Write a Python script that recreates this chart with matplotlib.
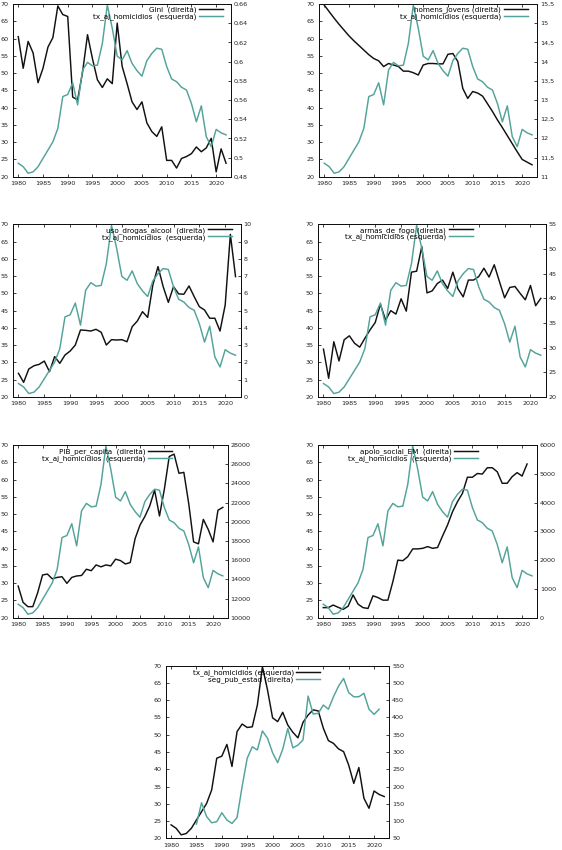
import numpy as np
import matplotlib
matplotlib.use("Agg")
import matplotlib.pyplot as plt
from matplotlib.ticker import FuncFormatter

nan = np.nan
years = list(range(1980, 2023))

tx_aj_homicidios = [23.9, 22.9, 21.0, 21.4, 22.9, 25.3, 27.7, 30.1, 34.0, 43.2,
                    43.8, 47.2, 40.8, 50.9, 53.1, 52.1, 52.3, 58.6, 69.7, 63.0,
                    54.9, 53.8, 56.5, 52.8, 50.7, 49.1, 53.6, 55.7, 57.2, 56.9,
                    51.9, 48.3, 47.5, 45.9, 45.1, 41.2, 35.9, 40.5, 31.6, 28.7,
                    33.7, 32.7, 32.1]

gini = [0.626, 0.593, 0.621, 0.609, 0.578, 0.593, 0.615, 0.625, 0.658, 0.649,
        0.647, 0.563, 0.560, 0.589, 0.628, 0.603, 0.581, 0.573, 0.582, 0.577,
        0.640, 0.595, 0.577, 0.558, 0.550, 0.558, 0.536, 0.527, 0.522, 0.532,
        0.497, 0.497, 0.489, 0.499, 0.501, 0.504, 0.511, 0.506, 0.510, 0.520,
        0.485, 0.509, 0.494]

homens_jovens = [15.47, 15.30, 15.13, 14.97, 14.82, 14.67, 14.54, 14.42, 14.30, 14.18,
                 14.08, 14.02, 13.87, 13.95, 13.91, 13.87, 13.75, 13.75, 13.71, 13.65,
                 13.91, 13.95, 13.95, 13.94, 13.94, 14.19, 14.21, 14.00, 13.30, 13.04,
                 13.22, 13.18, 13.10, 12.90, 12.70, 12.48, 12.28, 12.07, 11.86, 11.65,
                 11.45, 11.38, 11.31]

uso_drogas_alcool = [1.37, 0.85, 1.62, 1.81, 1.89, 2.08, 1.47, 2.34, 1.95, 2.43,
                     2.66, 3.01, 3.88, 3.86, 3.82, 3.92, 3.75, 3.01, 3.32, 3.30,
                     3.32, 3.20, 4.07, 4.40, 4.94, 4.61, 6.49, 7.55, 6.39, 5.48,
                     6.39, 5.97, 5.95, 6.43, 5.81, 5.23, 5.04, 4.56, 4.56, 3.82,
                     5.33, 9.42, 6.97]

armas_de_fogo = [29.7, 23.8, 31.2, 27.3, 31.6, 32.4, 30.9, 30.1, 31.9, 33.6,
                 35.1, 38.8, 35.6, 37.5, 36.8, 39.9, 37.4, 45.3, 45.5, 50.5,
                 41.1, 41.5, 43.0, 43.7, 42.0, 45.3, 41.9, 40.3, 43.7, 43.7,
                 44.4, 46.1, 44.3, 46.8, 43.4, 40.1, 42.2, 42.4, 41.0, 39.7,
                 42.6, 38.5, 40.0]

pib_per_capita = [13300, 11600, 11150, 11150, 12600, 14450, 14550, 14050, 14200, 14270,
                  13580, 14200, 14350, 14400, 15050, 14900, 15500, 15300, 15500, 15400,
                  16100, 15950, 15600, 15750, 18250, 19650, 20550, 21650, 23300, 20600,
                  23400, 26800, 27050, 25050, 25150, 21900, 17900, 17700, 20250, 19200,
                  17900, 21200, 21500]

apoio_social_em = [350, 350, 440, 360, 290, 400, 790, 470, 350, 320,
                   760, 700, 610, 610, 1250, 2000, 1980, 2120, 2390, 2390,
                   2410, 2470, 2410, 2440, 2840, 3220, 3680, 4030, 4320, 4880,
                   4880, 5010, 4990, 5210, 5210, 5070, 4670, 4670, 4900, 5040,
                   4920, 5340, nan]

seg_pub_estad = [nan, nan, nan, nan, nan, 91, 153, 113, 95, 98,
                 124, 103, 93, 110, 200, 282, 315, 306, 361, 340,
                 298, 269, 308, 368, 312, 320, 335, 462, 410, 412,
                 436, 424, 460, 491, 513, 472, 460, 460, 470, 424,
                 409, 424, nan]

x_ticks = [1980, 1985, 1990, 1995, 2000, 2005, 2010, 2015, 2020]
left_ticks = [20, 25, 30, 35, 40, 45, 50, 55, 60, 65, 70]

BLACK = "#111111"
TEAL = "#52a39a"
FS = 4.6
LFS = 5.2
W, H = 562, 850

fig = plt.figure(figsize=(5.62, 8.5), dpi=100)


def fmt(v, pos=None):
    return ("%g" % round(v, 6)).replace(".", ",")


def panel(box, other, other_ticks, other_label, hom_label, anchor, hom_black=False):
    l, r, t, b = box
    ax = fig.add_axes([l / W, 1 - b / H, (r - l) / W, (b - t) / H])
    ax2 = ax.twinx()
    if hom_black:
        c_h, c_o = BLACK, TEAL
    else:
        c_h, c_o = TEAL, BLACK
    lh, = ax.plot(years, tx_aj_homicidios, color=c_h, lw=1.05)
    lo, = ax2.plot(years, other, color=c_o, lw=1.05)
    ax.set_xlim(1979, 2023)
    ax.set_ylim(20, 70)
    ax.set_xticks(x_ticks)
    ax.set_yticks(left_ticks)
    ax2.set_ylim(other_ticks[0], other_ticks[-1])
    ax2.set_yticks(other_ticks)
    ax2.yaxis.set_major_formatter(FuncFormatter(fmt))
    ax.tick_params(axis='x', direction='in', length=2.5, width=0.6, labelsize=FS,
                   top=True, pad=3.2, colors='#222222')
    ax.tick_params(axis='y', direction='in', length=2.5, width=0.6, labelsize=FS,
                   pad=3.4, colors='#222222')
    ax2.tick_params(axis='y', direction='in', length=2.5, width=0.6, labelsize=FS,
                    pad=2.0, colors='#222222')
    for a in (ax, ax2):
        for s in a.spines.values():
            s.set_linewidth(0.7)
            s.set_color('#111111')
    if hom_black:
        top = ax2
        handles, labels = [lh, lo], [hom_label, other_label]
    else:
        ax.set_zorder(ax2.get_zorder() + 1)
        ax.patch.set_visible(False)
        top = ax
        handles, labels = [lo, lh], [other_label, hom_label]
    top.legend(handles, labels, loc='upper right', bbox_to_anchor=anchor,
               frameon=False, fontsize=LFS, handlelength=3.3, handletextpad=0.36,
               labelspacing=0.0, borderpad=0, borderaxespad=0, markerfirst=False)
    return ax, ax2


panel((13.3, 231, 4, 176.7), gini, [0.48, 0.50, 0.52, 0.54, 0.56, 0.58, 0.60, 0.62, 0.64, 0.66],
      "Gini  (direita)", "tx_aj_homicidios  (esquerda)", (0.963, 0.985))
panel((319.3, 537, 4, 176.7), homens_jovens, [11, 11.5, 12, 12.5, 13, 13.5, 14, 14.5, 15, 15.5],
      "homens_jovens (direita)", "tx_aj_homicidios (esquerda)", (0.957, 0.985))
panel((13.3, 240.7, 224.3, 397), uso_drogas_alcool, [0, 1, 2, 3, 4, 5, 6, 7, 8, 9, 10],
      "uso_drogas_alcool  (direita)", "tx_aj_homicidios  (esquerda)", (0.960, 0.985))
panel((318.3, 546, 224.3, 397), armas_de_fogo, [20, 25, 30, 35, 40, 45, 50, 55],
      "armas_de_fogo (direita)", "tx_aj_homicidios (esquerda)", (0.678, 0.986))
panel((13.3, 227.7, 445, 617.7), pib_per_capita,
      [10000, 12000, 14000, 16000, 18000, 20000, 22000, 24000, 26000, 28000],
      "PIB_per_capita  (direita)", "tx_aj_homicidios  (esquerda)", (0.739, 0.981))
panel((318.3, 537, 445, 617.7), apoio_social_em, [0, 1000, 2000, 3000, 4000, 5000, 6000],
      "apoio_social_EM  (direita)", "tx_aj_homicidios  (esquerda)", (0.729, 0.981))
panel((166, 389.3, 665.7, 838.3), seg_pub_estad,
      [50, 100, 150, 200, 250, 300, 350, 400, 450, 500, 550],
      "seg_pub_estad (direita)", "tx_aj_homicidios (esquerda)", (0.690, 0.979), hom_black=True)

fig.savefig("out.png", dpi=100)
